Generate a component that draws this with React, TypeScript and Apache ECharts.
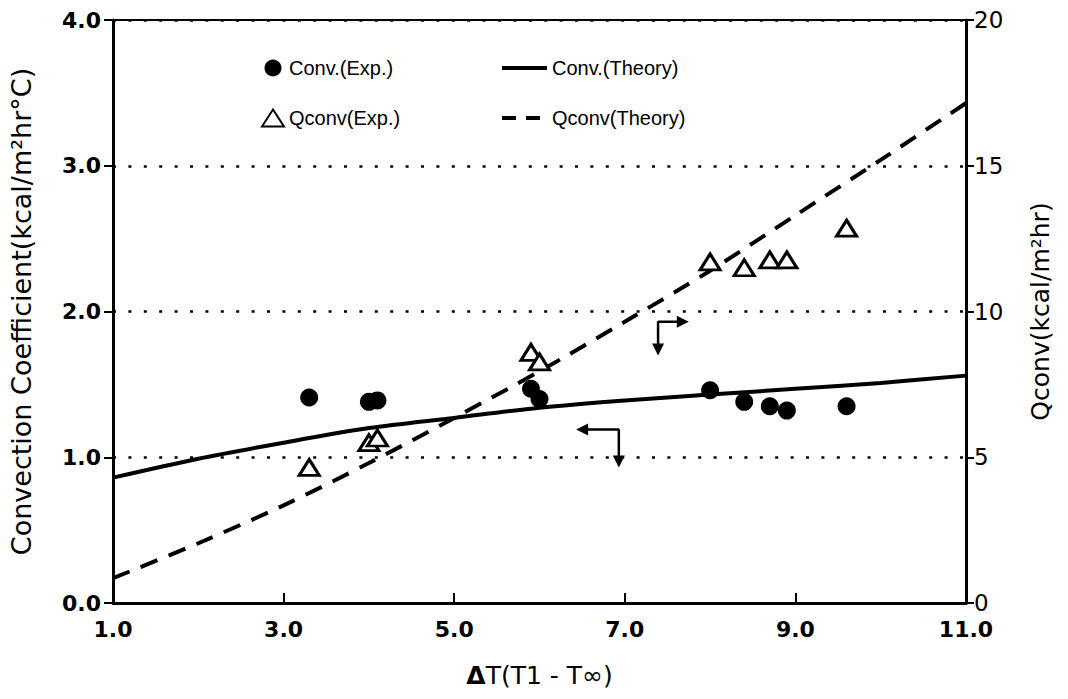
import React, { useEffect, useRef } from "react";
import * as echarts from "echarts";

// ΔT of the experimental points
const expDeltaT = [3.3, 4.0, 4.1, 5.9, 6.0, 8.0, 8.4, 8.7, 8.9, 9.6];
// Convection coefficient (experiment), left axis
const convExp = [1.41, 1.38, 1.39, 1.47, 1.4, 1.46, 1.38, 1.35, 1.32, 1.35];
// Qconv (experiment), right axis
const qconvExp = [4.65, 5.5, 5.66, 8.6, 8.27, 11.7, 11.5, 11.77, 11.77, 12.86];

// Theory curves
const theoryDeltaT = [1, 2, 3, 4, 5, 6, 7, 8, 9, 10, 11];
const convTheory = [0.86, 0.99, 1.1, 1.2, 1.27, 1.34, 1.39, 1.43, 1.47, 1.51, 1.56];
const qconvTheory = [0.85, 2.05, 3.35, 4.8, 6.35, 7.95, 9.65, 11.4, 13.3, 15.2, 17.15];

// Annotation arrows (data coordinates, left axis)
const arrowConvPts = [
  [6.5, 1.19],
  [6.93, 1.19],
  [6.93, 0.97],
];
const arrowQconvPts = [
  [7.39, 1.74],
  [7.39, 1.93],
  [7.68, 1.93],
];

const seriesNames = ["Conv.(Exp.)", "Conv.(Theory)", "Qconv(Exp.)", "Qconv(Theory)"];

export default function App() {
  const ref = useRef<HTMLDivElement>(null);
  useEffect(() => {
    if (!ref.current) return;
    const chart = echarts.init(ref.current, null, { renderer: "svg" });
    const zip = (xs: number[], ys: number[]) => xs.map((x, i) => [x, ys[i]]);
    const arrowData = (pts: number[][], startRot: number, endRot: number) =>
      pts.map((p, i) => {
        if (i === 0) return { value: p, symbol: "triangle", symbolRotate: startRot };
        if (i === pts.length - 1) return { value: p, symbol: "triangle", symbolRotate: endRot };
        return { value: p, symbol: "none" };
      });
    const tickFont = { fontFamily: "DejaVu Sans", fontWeight: "bold" as const, fontSize: 22, color: "#000" };
    const legendText = { fontFamily: "Liberation Sans", fontSize: 20, color: "#000" };
    chart.setOption({
      animation: false,
      backgroundColor: "#fff",
      grid: {
        left: 113,
        right: 102,
        top: 20,
        bottom: 96,
        show: true,
        borderColor: "#000",
        borderWidth: 2,
      },
      legend: [
        {
          data: [seriesNames[0], seriesNames[2]],
          orient: "vertical",
          left: 256,
          top: 53,
          itemGap: 30,
          itemWidth: 22,
          itemHeight: 17,
          textStyle: legendText,
        },
        {
          data: [
            { name: seriesNames[1], itemStyle: { opacity: 0 }, lineStyle: { width: 4, type: "solid" } },
            { name: seriesNames[3], itemStyle: { opacity: 0 }, lineStyle: { width: 4, type: [14, 10] } },
          ],
          orient: "vertical",
          left: 495,
          top: 53,
          itemGap: 30,
          itemWidth: 45,
          itemHeight: 17,
          textStyle: legendText,
        },
      ],
      xAxis: {
        type: "value",
        min: 1,
        max: 11,
        interval: 2,
        name: "{d|Δ}T(T1 - T∞)",
        nameLocation: "middle",
        nameGap: 60,
        nameTextStyle: {
          fontFamily: "DejaVu Sans",
          fontSize: 25,
          color: "#000",
          rich: { d: { fontFamily: "DejaVu Sans", fontSize: 25, fontWeight: "bold", color: "#000" } },
        },
        axisLine: { show: true, lineStyle: { color: "#000", width: 3 } },
        axisTick: { show: true, inside: true, length: 10, lineStyle: { color: "#000", width: 2 } },
        axisLabel: { ...tickFont, margin: 15, formatter: (v: number) => v.toFixed(1) },
        splitLine: { show: false },
      },
      yAxis: [
        {
          type: "value",
          min: 0,
          max: 4,
          interval: 1,
          position: "left",
          name: "Convection Coefficient(kcal/m²hr°C)",
          nameLocation: "middle",
          nameGap: 78,
          nameRotate: 90,
          nameTextStyle: { fontFamily: "DejaVu Sans", fontSize: 27, color: "#000" },
          axisLine: { show: true, lineStyle: { color: "#000", width: 3 } },
          axisTick: { show: true, length: 9, lineStyle: { color: "#000", width: 2 } },
          axisLabel: { ...tickFont, margin: 12, formatter: (v: number) => v.toFixed(1) },
          splitLine: {
            show: true,
            lineStyle: { color: "#000", width: 2.5, type: [3, 12.4] },
          },
        },
        {
          type: "value",
          min: 0,
          max: 20,
          interval: 5,
          position: "right",
          name: "Qconv(kcal/m²hr)",
          nameLocation: "middle",
          nameGap: 62,
          nameRotate: 90,
          nameTextStyle: { fontFamily: "DejaVu Sans", fontSize: 25, color: "#000" },
          axisLine: { show: true, lineStyle: { color: "#000", width: 3 } },
          axisTick: { show: true, length: 8, lineStyle: { color: "#000", width: 2 } },
          axisLabel: { fontFamily: "DejaVu Sans", fontSize: 23, color: "#000", margin: 8 },
          splitLine: { show: false },
        },
      ],
      series: [
        {
          name: seriesNames[0],
          type: "scatter",
          yAxisIndex: 0,
          symbol: "circle",
          symbolSize: 18,
          itemStyle: { color: "#000", opacity: 1 },
          data: zip(expDeltaT, convExp),
          z: 4,
        },
        {
          name: seriesNames[1],
          type: "line",
          yAxisIndex: 0,
          symbol: "none",
          smooth: 0.3,
          lineStyle: { color: "#000", width: 4 },
          itemStyle: { color: "#000" },
          data: zip(theoryDeltaT, convTheory),
          z: 3,
        },
        {
          name: seriesNames[2],
          type: "scatter",
          yAxisIndex: 1,
          symbol: "triangle",
          symbolSize: [20, 16],
          itemStyle: { color: "#fff", borderColor: "#000", borderWidth: 3, opacity: 1 },
          data: zip(expDeltaT, qconvExp),
          z: 4,
        },
        {
          name: seriesNames[3],
          type: "line",
          yAxisIndex: 1,
          symbol: "none",
          smooth: 0.3,
          lineStyle: { color: "#000", width: 4, type: [18, 12] },
          itemStyle: { color: "#000" },
          data: zip(theoryDeltaT, qconvTheory),
          z: 3,
        },
        {
          name: "arrowConv",
          type: "line",
          yAxisIndex: 0,
          silent: true,
          symbolSize: 12,
          showSymbol: true,
          lineStyle: { color: "#000", width: 2.5 },
          itemStyle: { color: "#000" },
          data: arrowData(arrowConvPts, 90, 180),
          z: 5,
        },
        {
          name: "arrowQconv",
          type: "line",
          yAxisIndex: 0,
          silent: true,
          symbolSize: 12,
          showSymbol: true,
          lineStyle: { color: "#000", width: 2.5 },
          itemStyle: { color: "#000" },
          data: arrowData(arrowQconvPts, 180, -90),
          z: 5,
        },
      ],
    });
    return () => chart.dispose();
  }, []);
  return (
    <div
      ref={ref}
      style={{ position: "fixed", left: 0, top: 0, width: 1068, height: 699, background: "#fff" }}
    />
  );
}
